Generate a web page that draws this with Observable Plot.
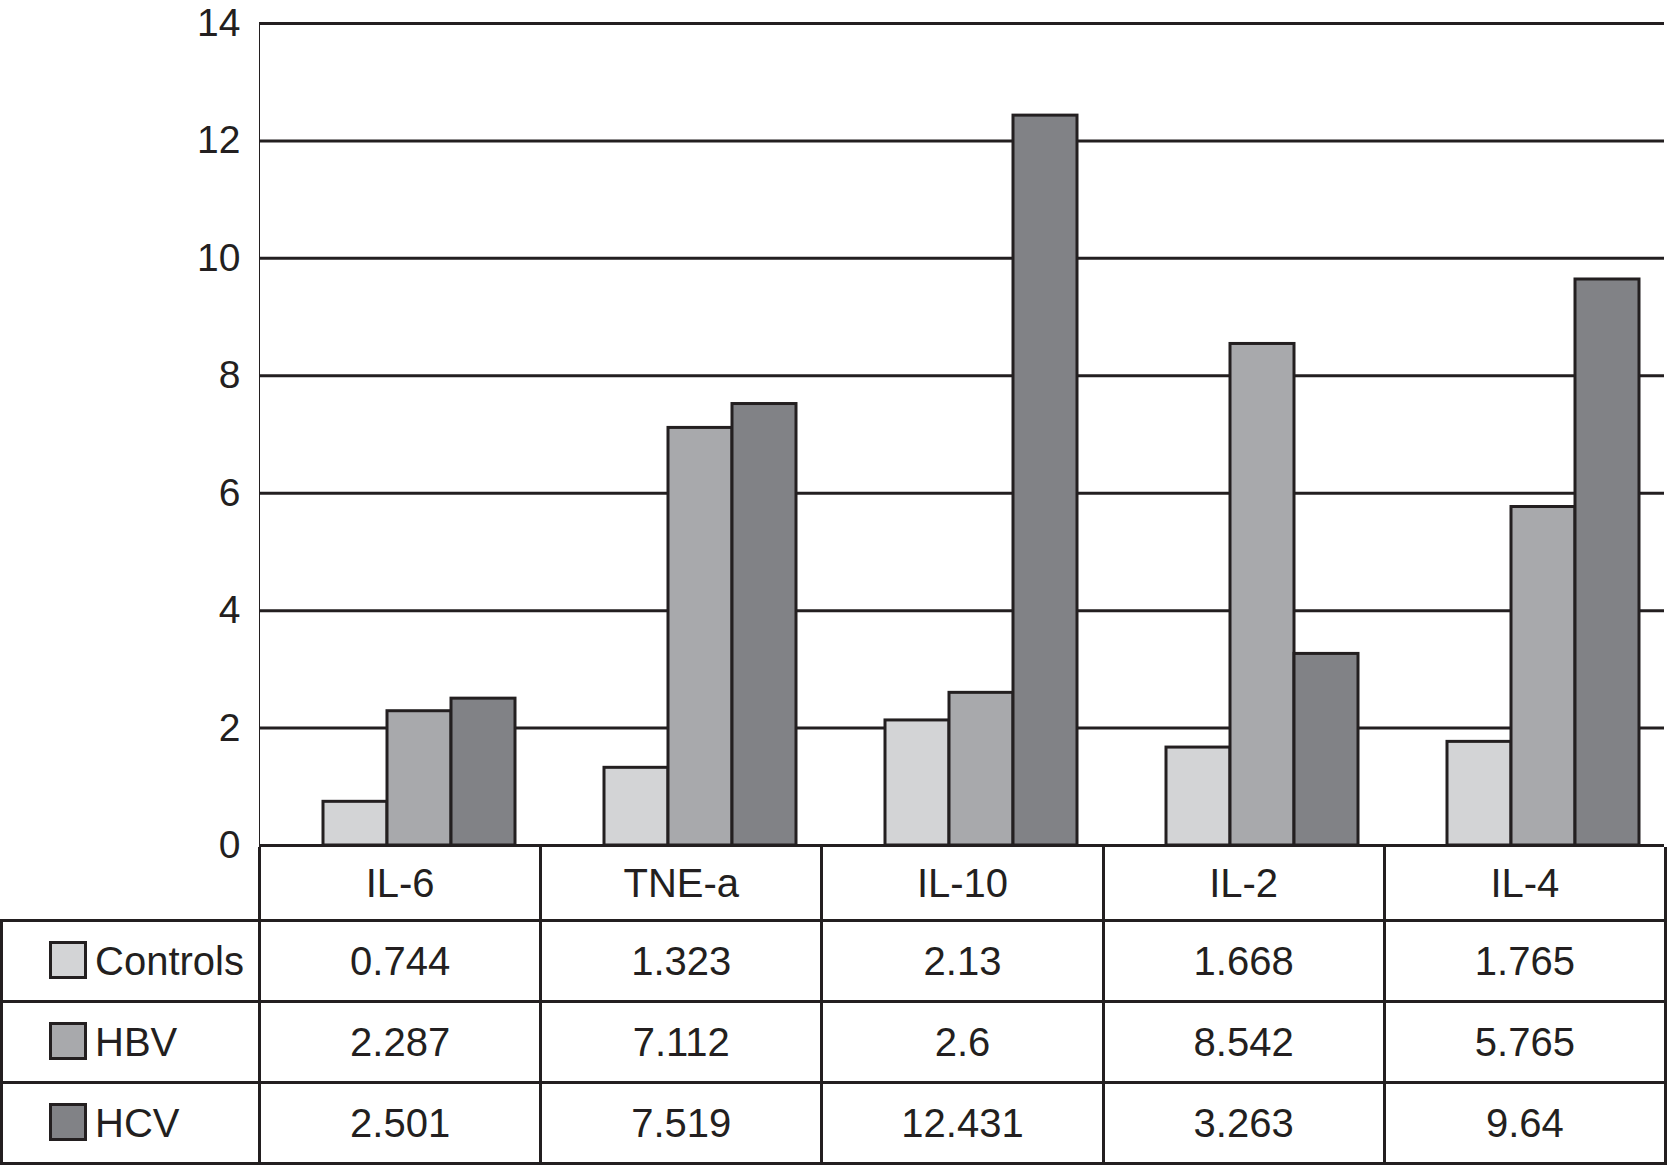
<!DOCTYPE html>
<html><head><meta charset="utf-8">
<script src="https://cdn.jsdelivr.net/npm/d3@7"></script>
<script src="https://cdn.jsdelivr.net/npm/@observablehq/plot@0.6"></script>
<style>
body{margin:0;background:#fff;font-family:"Liberation Sans",Arial,Helvetica,sans-serif;color:#231f20}
#chart svg{display:block}
#tbl{position:relative;margin-top:-28px}
table{border-collapse:collapse;table-layout:fixed;width:1667px;font-size:40px;color:#231f20}
td{border:3px solid #231f20;text-align:center;padding:0;white-space:nowrap;overflow:visible}
tr.head td{height:72px;border-top:none}
tr.head td.blank{border-left:none}
tr.row td{height:78px}
td.lab{text-align:left;padding-left:46px}
.sw{display:inline-block;width:32px;height:32px;border:3px solid #231f20;vertical-align:-4px;margin-right:8px}
</style></head><body>
<div id="chart"></div>
<div id="tbl"></div>
<script>
const categories = ["IL-6", "TNE-a", "IL-10", "IL-2", "IL-4"];
const series = ["Controls", "HBV", "HCV"];
const controls = [0.744, 1.323, 2.13, 1.668, 1.765];
const hbv = [2.287, 7.112, 2.6, 8.542, 5.765];
const hcv = [2.501, 7.519, 12.431, 3.263, 9.64];
const yTicks = [0, 2, 4, 6, 8, 10, 12, 14];
const colors = ["#d3d4d6", "#a8a9ac", "#818286"];

const valuesBySeries = [controls, hbv, hcv];
const data = categories.flatMap((c, i) =>
  series.map((s, j) => ({cat: c, series: s, value: valuesBySeries[j][i]})));

const ink = "#231f20";
const chart = Plot.plot({
  width: 1667,
  height: 875,
  marginLeft: 258,
  marginRight: 2,
  marginTop: 23,
  marginBottom: 30,
  style: {fontFamily: '"Liberation Sans", Arial, sans-serif', fontSize: "39px", color: ink, background: "#fff"},
  fx: {domain: categories, padding: 0, axis: null},
  x: {domain: series, paddingInner: 0, paddingOuter: 0.69, align: 0.72, axis: null},
  y: {domain: [0, 14], ticks: yTicks, tickSize: 0, tickPadding: 19, label: null, line: true},
  color: {domain: series, range: colors},
  marks: [
    Plot.ruleY(yTicks.slice(1), {stroke: ink, strokeWidth: 3}),
    Plot.barY(data, {fx: "cat", x: "series", y: "value", fill: "series", stroke: ink, strokeWidth: 3}),
    Plot.ruleY([0], {stroke: ink, strokeWidth: 3})
  ]
});
document.getElementById("chart").appendChild(chart);

// data table below the chart
let html = '<table><colgroup><col style="width:258px">' + categories.map(() => '<col>').join('') + '</colgroup>';
html += '<tr class="head"><td class="blank"></td>' + categories.map(c => `<td>${c}</td>`).join('') + '</tr>';
series.forEach((s, j) => {
  html += `<tr class="row"><td class="lab"><span class="sw" style="background:${colors[j]}"></span>${s}</td>` +
    valuesBySeries[j].map(v => `<td>${v}</td>`).join('') + '</tr>';
});
html += '</table>';
document.getElementById("tbl").innerHTML = html;
</script>
</body></html>
